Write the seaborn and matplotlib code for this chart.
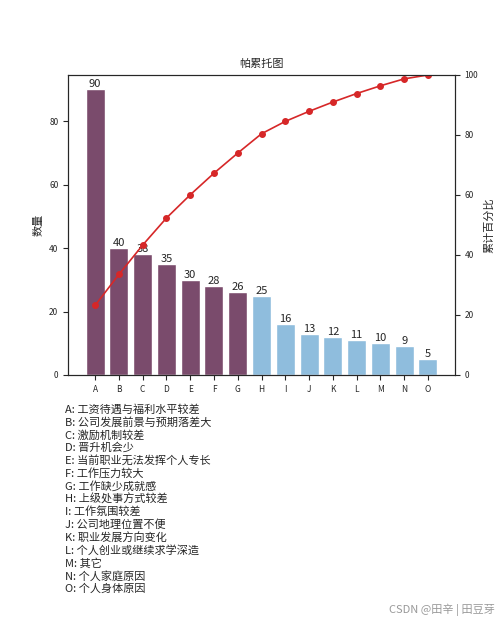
import matplotlib
matplotlib.use("Agg")
import matplotlib.pyplot as plt
import seaborn as sns
import numpy as np
import pandas as pd

cats = list("ABCDEFGHIJKLMNO")
counts = [90, 40, 38, 35, 30, 28, 26, 25, 16, 13, 12, 11, 10, 9, 5]
reasons = ["工资待遇与福利水平较差", "公司发展前景与预期落差大", "激励机制较差", "晋升机会少",
           "当前职业无法发挥个人专长", "工作压力较大", "工作缺少成就感", "上级处事方式较差",
           "工作氛围较差", "公司地理位置不便", "职业发展方向变化", "个人创业或继续求学深造",
           "其它", "个人家庭原因", "个人身体原因"]

sns.set_style("ticks")
plt.rcParams['font.family'] = ['Noto Sans CJK SC', 'DejaVu Sans']
plt.rcParams['axes.unicode_minus'] = False

df = pd.DataFrame({"cat": cats, "count": counts})
cum = np.cumsum(counts) / np.sum(counts) * 100
colors = ["#7a4b6c"] * 7 + ["#8fbddd"] * 8

fig = plt.figure(figsize=(5, 6.25), dpi=100)
ax = fig.add_axes([0.136, 0.4, 0.774, 0.48])
sns.barplot(data=df, x="cat", y="count", hue="cat", palette=colors, legend=False, ax=ax, saturation=1, width=0.8)
for i, v in enumerate(counts):
    ax.text(i, v, str(v), ha="center", va="bottom", fontsize=8)
ax.set_ylim(0, 94.5)
ax.set_xlabel("")
ax.set_ylabel("数量", fontsize=8)
ax.set_title("帕累托图", fontsize=8)
ax.tick_params(labelsize=6)
ax2 = ax.twinx()
ax2.plot(range(len(cats)), cum, color="#d62728", marker="o", markersize=4, linewidth=1.2)
ax2.set_ylim(0, 100)
ax2.set_ylabel("累计百分比", fontsize=8)
ax2.tick_params(labelsize=6)

y = 0.345
for c, r in zip(cats, reasons):
    fig.text(0.13, y, f"{c}: {r}", fontsize=8, va="center")
    y -= 0.0205
fig.text(0.99, 0.02, "CSDN @田辛 | 田豆芽", fontsize=8, color="#999999", ha="right")
fig.savefig("out.png", dpi=100)
